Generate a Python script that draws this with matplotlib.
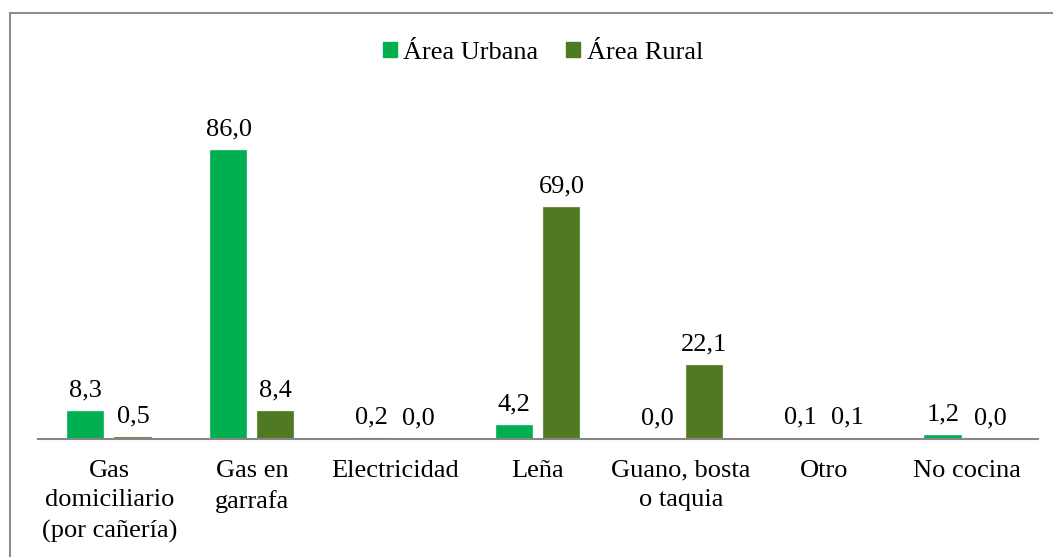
import matplotlib.pyplot as plt
import matplotlib.patches as patches
from matplotlib.lines import Line2D
import numpy as np

# Fuel used for cooking, % of households by area
categories = ["Gas\ndomiciliario\n(por cañería)", "Gas en\ngarrafa", "Electricidad",
              "Leña", "Guano, bosta\no taquia", "Otro", "No cocina"]
urbana = [8.3, 86.0, 0.2, 4.2, 0.0, 0.1, 1.2]
rural = [0.5, 8.4, 0.0, 69.0, 22.1, 0.1, 0.0]
series_names = ["Área Urbana", "Área Rural"]

GREEN = "#00B050"
OLIVE = "#4F7A21"

plt.rcParams['font.family'] = ['Liberation Serif', 'DejaVu Serif']
FS = 19

W, H = 1053, 557
fig = plt.figure(figsize=(W / 100, H / 100), dpi=100)

# chart frame: only the top and left edges fall inside the image
fx, fy = 9.5 / W, 1 - 12.5 / H
fig.add_artist(Line2D([fx, 1.01], [fy, fy], transform=fig.transFigure,
                      color="#8c8c8c", linewidth=1.5))
fig.add_artist(Line2D([fx, fx], [fy, -0.01], transform=fig.transFigure,
                      color="#8c8c8c", linewidth=1.5))

ax = fig.add_axes([38 / W, 118 / H, 1000 / W, 336 / H])
x = np.arange(len(categories))
bw = 0.26
off = 0.165
b1 = ax.bar(x - off, urbana, bw, color=GREEN, edgecolor="#dff0e4", linewidth=0.3)
b2 = ax.bar(x + off, rural, bw, color=OLIVE, edgecolor="#dfe8d6", linewidth=0.3)

for bars, vals in ((b1, urbana), (b2, rural)):
    for rect, v in zip(bars, vals):
        ax.annotate(f"{v:.1f}".replace(".", ","),
                    (rect.get_x() + rect.get_width() / 2, v),
                    xytext=(0, 7), textcoords="offset points",
                    ha="center", va="bottom", fontsize=FS)

ax.set_xlim(-0.5, len(categories) - 0.5)
ax.set_ylim(0, 100)
ax.set_xticks(x)
ax.set_xticklabels(categories, fontsize=FS, linespacing=1.45)
ax.tick_params(axis="x", length=0, pad=15)
ax.set_yticks([])
for s in ("top", "right", "left"):
    ax.spines[s].set_visible(False)
ax.spines["bottom"].set_color("#868686")
ax.spines["bottom"].set_linewidth(1.5)

handles = [patches.Patch(color=GREEN), patches.Patch(color=OLIVE)]
fig.legend(handles, series_names, loc="center", bbox_to_anchor=(543 / W, 1 - 53 / H),
           ncol=2, frameon=False, fontsize=FS, handlelength=0.53, handleheight=0.53,
           handletextpad=0.25, columnspacing=1.05, borderpad=0)

fig.savefig("out.png", dpi=100)
